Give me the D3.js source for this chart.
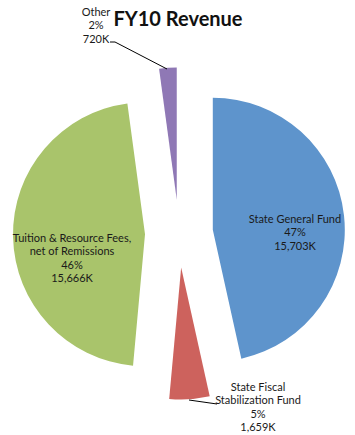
<!DOCTYPE html>
<html><head><meta charset="utf-8">
<script src="https://cdn.jsdelivr.net/npm/d3@7"></script>
<style>html,body{margin:0;padding:0;background:#fff;}svg{display:block;}</style>
</head><body>
<svg id="chart" width="355" height="435"></svg>
<script>
const categories = ["State General Fund", "State Fiscal Stabilization Fund", "Tuition & Resource Fees, net of Remissions", "Other"];
const values = [15703, 1659, 15666, 720];
const colors = ["#5e94cc", "#cd625d", "#a9c46b", "#8f78b5"];
const title = "FY10 Revenue";

// label line breaks and positions (layout only)
const labelLines = [["State General Fund"], ["State Fiscal", "Stabilization Fund"], ["Tuition & Resource Fees,", "net of Remissions"], ["Other"]];
const labelPos = [[295, 219], [258, 387], [72, 238], [96, 12]];
const leaders = [null, [[189, 400], [217, 404]], null, [[110, 42], [115, 42], [167, 69]]];

const svg = d3.select("#chart");
const W = 355, H = 435;
const cx = 179, cy = 233.5, R = 132, explode = 34;
const total = d3.sum(values);

const pie = d3.pie().sort(null).value(d => d)(values);
const arc = d3.arc().innerRadius(0).outerRadius(R);

const g = svg.append("g").attr("transform", `translate(${cx},${cy})`);
g.selectAll("path").data(pie).join("path")
  .attr("d", arc)
  .attr("fill", (d, i) => colors[i])
  .attr("transform", d => {
    const a = (d.startAngle + d.endAngle) / 2;
    return `translate(${explode * Math.sin(a)},${-explode * Math.cos(a)})`;
  });

svg.append("text").attr("x", 178).attr("y", 26).attr("text-anchor", "middle")
  .attr("font-family", "Lato, 'Open Sans', sans-serif").attr("font-weight", "bold")
  .attr("font-size", 20).attr("fill", "#111").text(title);

const fmt = d3.format(",");
values.forEach((v, i) => {
  const lines = labelLines[i].concat([Math.round(v / total * 100) + "%", fmt(v) + "K"]);
  const t = svg.append("text").attr("text-anchor", "middle")
    .attr("font-family", "Lato, 'Open Sans', sans-serif").attr("font-size", 11)
    .attr("fill", "#1a1a1a");
  lines.forEach((s, j) => {
    t.append("tspan").attr("x", labelPos[i][0]).attr("y", labelPos[i][1] + 4 + j * 13.4).text(s);
  });
  if (leaders[i]) {
    svg.append("path").attr("d", d3.line()(leaders[i])).attr("fill", "none")
      .attr("stroke", "#000").attr("stroke-width", 1);
  }
});
</script>
</body></html>
